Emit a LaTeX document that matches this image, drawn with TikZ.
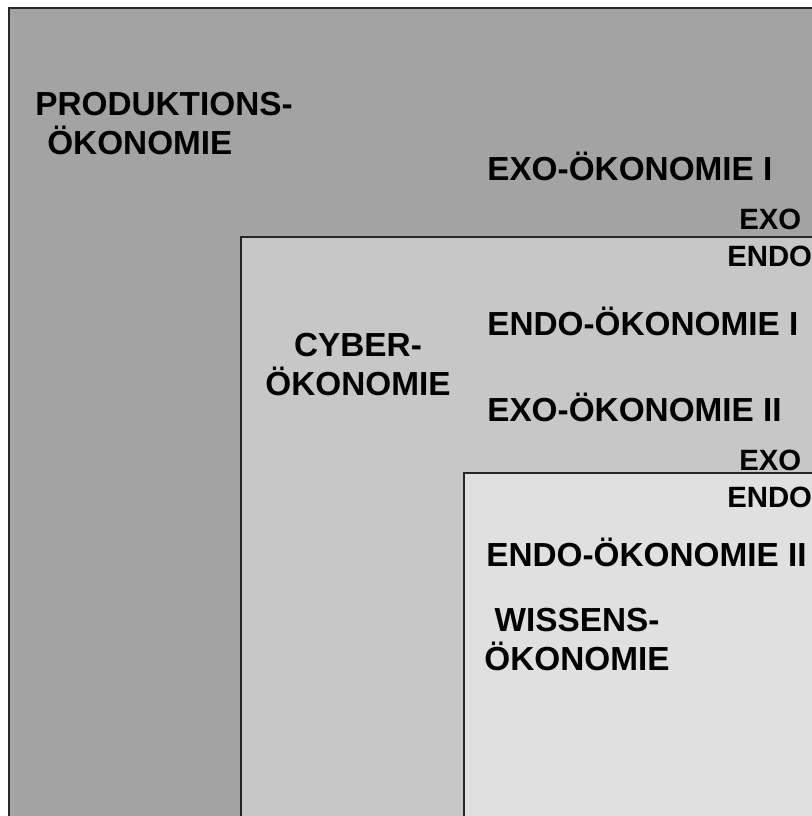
\documentclass[tikz,border=0pt]{standalone}
\usepackage{fontspec}
\setmainfont{Liberation Sans}
\usetikzlibrary{positioning}
\definecolor{prodgray}{HTML}{A3A3A3}
\definecolor{cybergray}{HTML}{C7C7C7}
\definecolor{wissgray}{HTML}{E0E0E0}
\begin{document}
\begin{tikzpicture}[x=0.75pt,y=-0.75pt,
	lbl/.style={inner sep=0pt,font=\bfseries\fontsize{25}{29}\selectfont},
	edge/.style={inner sep=0pt,font=\bfseries\fontsize{22}{26}\selectfont},
	area/.style={draw=black!85,line width=1.1pt}]
	\useasboundingbox (0,0) rectangle (812,816);
	\clip (0,0) rectangle (812,816);
	\fill[white] (0,0) rectangle (812,816);
	% nested areas
	\draw[area,fill=prodgray] (9,8) rectangle (840,840);
	\draw[area,fill=cybergray] (241,237) rectangle (840,840);
	\draw[area,fill=wissgray] (464,473) rectangle (840,840);
	% labels
	\node[lbl,align=left,anchor=north west] (prod) at (35,92) {PRODUKTIONS-\\\hspace*{9pt}ÖKONOMIE};
	\node[lbl,anchor=base west] (exo1) at (487,181) {EXO-ÖKONOMIE I};
	\node[edge,anchor=base west] (exoA) at (739,230) {EXO};
	\node[edge,anchor=base west] (endoA) at (727,267) {ENDO};
	\node[lbl,align=center,anchor=north] (cyber) at (358,333) {CYBER-\\ÖKONOMIE};
	\node[lbl,anchor=base west] (endo1) at (487,335) {ENDO-ÖKONOMIE I};
	\node[lbl,anchor=base west] (exo2) at (487,421) {EXO-ÖKONOMIE II};
	\node[edge,anchor=base west] (exoB) at (739,470) {EXO};
	\node[edge,anchor=base west] (endoB) at (727,507) {ENDO};
	\node[lbl,anchor=base west] (endo2) at (486,566) {ENDO-ÖKONOMIE II};
	\node[lbl,align=center,anchor=north] (wiss) at (577,608) {WISSENS-\\ÖKONOMIE};
\end{tikzpicture}
\end{document}
